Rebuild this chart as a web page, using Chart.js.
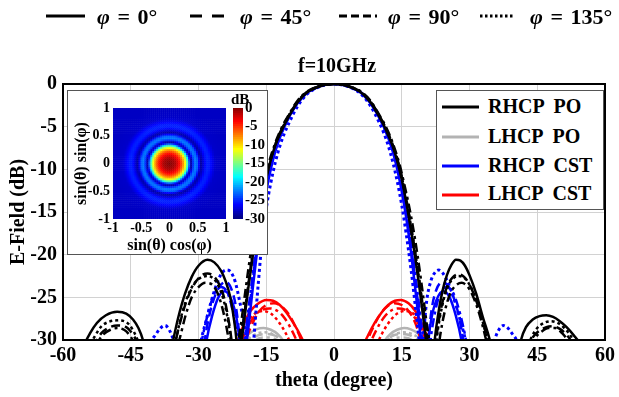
<!DOCTYPE html>
<html><head><meta charset="utf-8">
<script src="https://cdn.jsdelivr.net/npm/chart.js@4.4.0/dist/chart.umd.min.js"></script>
<style>
html,body{margin:0;padding:0;background:#fff;}
body{width:619px;height:397px;position:relative;overflow:hidden;font-family:"Liberation Serif","Times New Roman",serif;font-weight:bold;color:#000;}
.abs{position:absolute;white-space:pre;}
canvas{position:absolute;}
.lt{position:absolute;font-size:22px;line-height:22px;white-space:pre;word-spacing:2px;}
.lg{position:absolute;font-size:20px;line-height:20px;white-space:pre;}
</style></head><body>
<canvas id="main" width="619" height="397" style="left:0;top:0"></canvas>
<div class="abs" style="left:237px;width:200px;text-align:center;top:55px;font-size:20px;line-height:20px;">f=10GHz</div>

<svg class="abs" style="left:0;top:0" width="619" height="34">
  <line x1="46" y1="16" x2="85" y2="16" stroke="#000" stroke-width="3"/>
  <line x1="190" y1="16" x2="224" y2="16" stroke="#000" stroke-width="3" stroke-dasharray="12 10"/>
  <line x1="339" y1="16" x2="381" y2="16" stroke="#000" stroke-width="3" stroke-dasharray="8 4 8 4 8 4 2 4"/>
  <line x1="480" y1="16" x2="513" y2="16" stroke="#000" stroke-width="3" stroke-dasharray="2.5 2.5"/>
</svg>
<div class="lt" style="left:97px;top:6px"><i>φ</i> = 0°</div>
<div class="lt" style="left:240px;top:6px"><i>φ</i> = 45°</div>
<div class="lt" style="left:388px;top:6px"><i>φ</i> = 90°</div>
<div class="lt" style="left:530px;top:6px"><i>φ</i> = 135°</div>

<div class="abs" style="left:436px;top:90px;width:168px;height:120px;box-sizing:border-box;border:1px solid #555;background:#fff;"></div>
<svg class="abs" style="left:436px;top:90px" width="168" height="120">
  <line x1="6" y1="17" x2="43" y2="17" stroke="#000" stroke-width="3"/>
  <line x1="6" y1="47" x2="43" y2="47" stroke="#b3b3b3" stroke-width="3"/>
  <line x1="6" y1="76" x2="43" y2="76" stroke="#0000ff" stroke-width="3"/>
  <line x1="6" y1="105" x2="43" y2="105" stroke="#ff0000" stroke-width="3"/>
</svg>
<div class="lg" style="left:488px;top:96px">RHCP  PO</div>
<div class="lg" style="left:488px;top:126px">LHCP  PO</div>
<div class="lg" style="left:488px;top:155px">RHCP  CST</div>
<div class="lg" style="left:488px;top:183px">LHCP  CST</div>

<div class="abs" style="left:67px;top:90px;width:201px;height:165px;box-sizing:border-box;border:1px solid #555;background:#fff;"></div>
<canvas id="heat" width="170" height="165" style="left:67px;top:90px"></canvas>
<canvas id="cbar" width="40" height="150" style="left:228px;top:90px"></canvas>
<div class="abs" style="left:231px;top:92px;font-size:15px;line-height:15px;">dB</div>

<script>
// ---------------- data ----------------
const xTicks = [-60, -45, -30, -15, 0, 15, 30, 45, 60];
const yTicks = [0, -5, -10, -15, -20, -25, -30];
const phiLabels = ['0', '45', '90', '135'];
const seriesNames = ['RHCP  PO', 'LHCP  PO', 'RHCP  CST', 'LHCP  CST'];

// RHCP PO  [theta(deg), dB]
const rhcpPO_0 = [[-60,-38],[-57,-34],[-55.2,-30.5],[-54,-29.2],[-52.5,-28.0],[-50.5,-27.1],[-48,-26.7],[-46,-26.9],[-44.5,-27.6],[-43.3,-28.6],[-42.3,-30],[-41,-33],[-38.8,-38],[-37,-33.5],[-35.6,-30],[-34.5,-27.4],[-33,-24.6],[-31.5,-22.6],[-30,-21.3],[-28,-20.6],[-26.5,-20.9],[-25,-21.9],[-24,-23.1],[-23,-24.9],[-22.2,-27.4],[-21.6,-30],[-21,-35],
  [-20.5,-30.6],[-20,-28.2],[-19,-24.0],[-18,-20.2],[-17,-16.8],[-16,-13.8],[-15,-11.1],[-14,-8.9],[-13,-7.2],[-12,-5.9],[-11,-4.8],[-10,-3.8],[-9,-2.9],[-8,-2.1],[-6,-1.0],[-4,-0.45],[-2,-0.1],[0,0],
  [2,-0.1],[4,-0.45],[6,-1.0],[8,-2.1],[9,-2.9],[10,-3.8],[11,-4.8],[12,-6.0],[13,-7.3],[14,-9.0],[15,-11.2],[16,-13.9],[17,-17.0],[18,-20.4],[19,-24.2],[20,-28.4],[20.5,-30.8],[21.2,-36],
  [22.3,-30],[23,-27.2],[24,-24.3],[25,-22.4],[26,-21.2],[27,-20.6],[28,-20.7],[29,-21.3],[30,-22.4],[31.5,-24.6],[33,-27.4],[34.5,-30],[35.5,-32.5],[38.5,-38],[40.3,-33],[41.4,-30],[42.5,-28.5],[44,-27.6],[45.5,-27.2],[47,-27.1],[48.5,-27.3],[50,-27.8],[51.5,-28.5],[53,-29.4],[54.5,-30.5],[56,-33],[60,-38]];
const rhcpPO_45 = [[-60,-40],[-56,-35],[-53.5,-31],[-52.5,-30],[-51.5,-29.2],[-50,-28.6],[-48,-28.3],[-46,-28.5],[-45,-29],[-44,-29.8],[-43,-31],[-41,-36],[-38.5,-40],[-36.5,-34],[-35,-30],[-34,-27.8],[-32.5,-25.2],[-31,-23.5],[-29.5,-22.5],[-28,-22.2],[-26.5,-22.6],[-25.3,-23.6],[-24.3,-25.1],[-23.5,-27.2],[-22.7,-30],[-22,-34],[-21.4,-36],
  [-20.8,-30.5],[-20,-27.6],[-19,-23.6],[-18,-19.8],[-17,-16.4],[-16,-13.5],[-15,-10.9],[-14,-8.8],[-13,-7.1],[-12,-5.8],[-11,-4.7],[-10,-3.7],[-8,-2.0],[-6,-0.95],[-4,-0.4],[-2,-0.1],[0,0],
  [2,-0.1],[4,-0.4],[6,-0.95],[8,-2.0],[10,-3.7],[11,-4.7],[12,-5.8],[13,-7.1],[14,-8.8],[15,-10.9],[16,-13.5],[17,-16.5],[18,-19.8],[19,-23.5],[20,-27.4],[20.8,-30.6],[21.5,-36],
  [22.2,-32],[23,-28.4],[24,-25.6],[25,-23.8],[26.2,-22.7],[27.5,-22.3],[28.8,-22.6],[30,-23.5],[31.5,-25.4],[33,-28],[34.3,-30.5],[35.5,-34],[38.5,-40],[41,-36],[43,-31],[44,-29.7],[45.5,-28.9],[47,-28.5],[48.5,-28.4],[50,-28.7],[51.5,-29.4],[52.7,-30.4],[55,-35],[60,-40]];
const rhcpPO_90 = [[-60,-40],[-56,-36],[-53,-31],[-52,-30],[-51,-29.3],[-49.5,-28.8],[-48,-28.6],[-46.5,-28.8],[-45.3,-29.4],[-44.3,-30.3],[-43,-32],[-40,-38],[-37,-36],[-35,-31.5],[-34,-29.5],[-32.8,-27],[-31.5,-25],[-30,-23.8],[-28.5,-23.3],[-27,-23.5],[-25.7,-24.6],[-24.7,-26.3],[-23.8,-28.5],[-23.2,-30.5],[-22.5,-34],[-21.8,-36],
  [-21.2,-30.6],[-20.5,-27.8],[-19.5,-23.8],[-18.5,-20],[-17.5,-16.7],[-16.5,-14],[-15.5,-11.6],[-14.5,-9.4],[-13,-6.9],[-12,-5.6],[-11,-4.5],[-10,-3.6],[-8,-1.9],[-6,-0.9],[-4,-0.4],[-2,-0.1],[0,0],
  [2,-0.1],[4,-0.4],[6,-0.9],[8,-1.9],[10,-3.6],[11,-4.5],[12,-5.6],[13,-6.9],[14.5,-9.4],[15.5,-11.6],[16.5,-14],[17.5,-16.8],[18.5,-20.1],[19.5,-23.9],[20.5,-28],[21.2,-30.8],[21.8,-36],
  [22.6,-33],[23.5,-29.5],[24.5,-26.7],[25.7,-24.6],[27,-23.6],[28.3,-23.3],[29.5,-23.7],[30.8,-24.9],[32.2,-27],[33.5,-29.6],[34.5,-32],[38,-40],[41.5,-36],[43.5,-31],[44.5,-29.8],[46,-29],[47.5,-28.6],[49,-28.6],[50.5,-29.2],[51.8,-30.2],[54,-34],[60,-40]];
const rhcpPO_135 = [[-60,-39],[-56,-34],[-54,-30.6],[-53,-29.6],[-51.5,-28.4],[-50,-27.9],[-48,-27.7],[-46,-27.9],[-44.8,-28.6],[-43.8,-29.6],[-42.8,-31],[-41,-35],[-38.5,-39],[-36.5,-34],[-35,-30],[-34,-27.6],[-32.5,-25],[-31,-23.4],[-29.5,-22.7],[-28,-22.5],[-26.5,-22.9],[-25.3,-24],[-24.3,-25.6],[-23.5,-27.6],[-22.8,-30],[-22.2,-33],[-21.4,-36],
  [-20.8,-30.5],[-20,-27.6],[-19,-23.6],[-18,-19.8],[-17,-16.4],[-16,-13.5],[-15,-10.9],[-14,-8.8],[-13,-7.1],[-12,-5.8],[-11,-4.7],[-10,-3.7],[-8,-2.0],[-6,-0.95],[-4,-0.4],[-2,-0.1],[0,0],
  [2,-0.1],[4,-0.4],[6,-0.95],[8,-2.0],[10,-3.7],[11,-4.7],[12,-5.8],[13,-7.1],[14,-8.8],[15,-10.9],[16,-13.5],[17,-16.5],[18,-19.8],[19,-23.5],[20,-27.4],[20.8,-30.6],[21.5,-36],
  [22.3,-32],[23,-28.8],[24,-25.9],[25,-24],[26.2,-22.9],[27.6,-22.5],[29,-22.8],[30.3,-23.8],[31.7,-25.6],[33,-28],[34.2,-30.5],[35.5,-34],[38.5,-39],[41,-35],[42.8,-31],[43.8,-29.6],[45,-28.6],[46.5,-28.0],[48,-27.8],[49.5,-28],[51,-28.6],[52.5,-29.6],[53.5,-30.6],[56,-34],[60,-39]];

// LHCP PO
const lhcpPO_0 = [[-60,-45],[-24,-42],[-21,-33],[-19.8,-30],[-18.6,-29.2],[-17.2,-28.75],[-15.6,-28.6],[-14,-28.8],[-12.5,-29.3],[-11.2,-30.1],[-10,-31.5],[-7,-38],[0,-50],[7,-38],[10,-31.5],[11.2,-30.1],[12.5,-29.3],[14,-28.8],[15.5,-28.6],[17,-28.75],[18.5,-29.2],[19.7,-30],[21,-33],[24,-42],[60,-45]];
const lhcpPO_45 = [[-60,-45],[-23,-42],[-20,-32],[-18.6,-30.2],[-17,-29.5],[-15,-29.3],[-13,-29.5],[-11.8,-30.2],[-10,-32.5],[-7,-38],[0,-50],[7,-38],[10,-32.5],[11.8,-30.2],[13,-29.5],[15,-29.3],[17,-29.5],[18.6,-30.2],[20,-32],[23,-42],[60,-45]];
const lhcpPO_90 = [[-60,-45],[-22,-42],[-19.5,-32],[-17.5,-30.1],[-15,-29.7],[-12.5,-30.1],[-10.5,-32],[-7,-38],[0,-50],[7,-38],[10.5,-32],[12.5,-30.1],[15,-29.7],[17.5,-30.1],[19.5,-32],[22,-42],[60,-45]];
const lhcpPO_135 = [[-60,-45],[-23,-42],[-20.5,-32],[-19,-30],[-17.3,-29.3],[-15.5,-29.1],[-13.7,-29.3],[-12,-30],[-10.5,-32],[-7,-38],[0,-50],[7,-38],[10.5,-32],[12,-30],[13.7,-29.3],[15.5,-29.1],[17.3,-29.3],[19,-30],[20.5,-32],[23,-42],[60,-45]];

// RHCP CST
const rhcpCST_0 = [[-60,-45],[-34,-42],[-29.5,-35],[-28.2,-30],[-27,-27.2],[-25.6,-25],[-24.2,-24.3],[-22.7,-25.3],[-21.6,-27.4],[-20.9,-30],[-20.2,-35],
  [-19.6,-31.5],[-19,-28.8],[-18,-24],[-17,-19.5],[-16,-15.7],[-15,-12.6],[-14,-10],[-13,-7.9],[-12,-6.3],[-11,-5.0],[-10,-3.9],[-8,-2.2],[-6,-1.05],[-4,-0.45],[-2,-0.1],[0,0],
  [2,-0.1],[4,-0.45],[6,-1.05],[8,-2.2],[10,-3.9],[11,-5.0],[12,-6.3],[13,-7.9],[14,-10],[15,-12.6],[16,-15.7],[17,-19.5],[18,-24],[19,-28.8],[19.6,-31.5],
  [20.2,-35],[20.9,-30],[21.6,-27.4],[22.7,-25.3],[24.2,-24.3],[25.6,-25],[27,-27.2],[28.2,-30],[29.5,-35],[34,-42],[60,-45]];
const rhcpCST_45 = [[-60,-45],[-34,-42],[-29.8,-35],[-28.6,-30],[-27.8,-27.6],[-26.8,-25.5],[-25.4,-23.8],[-24,-23.2],[-22.6,-24.2],[-21.6,-26.5],[-20.9,-30],[-20.3,-35],
  [-19.7,-31],[-19,-27.6],[-18,-23],[-17,-18.8],[-16,-15.2],[-15,-12.2],[-14,-9.7],[-13,-7.7],[-12,-6.2],[-11,-5.0],[-10,-3.9],[-8,-2.2],[-6,-1.05],[-4,-0.45],[-2,-0.1],[0,0],
  [2,-0.1],[4,-0.45],[6,-1.05],[8,-2.2],[10,-3.9],[11,-5.0],[12,-6.2],[13,-7.7],[14,-9.7],[15,-12.2],[16,-15.2],[17,-18.8],[18,-23],[19,-27.6],[19.7,-31],
  [20.3,-35],[20.9,-30],[21.6,-26.5],[22.6,-24.2],[24,-23.2],[25.4,-23.8],[26.8,-25.5],[27.8,-27.6],[28.6,-30],[29.8,-35],[34,-42],[60,-45]];
const rhcpCST_90 = [[-60,-45],[-35,-42],[-30.3,-35],[-29.3,-30.3],[-28.5,-28.2],[-27.6,-26.3],[-26.5,-24.6],[-25,-23.8],[-23.4,-24.7],[-22.2,-27.2],[-21.3,-30.4],[-20.6,-35],
  [-20,-31.2],[-19.2,-27.5],[-18.2,-23.2],[-17.2,-19],[-16.2,-15.4],[-15.2,-12.4],[-14,-9.5],[-13,-7.6],[-12,-6.1],[-11,-4.9],[-10,-3.8],[-8,-2.15],[-6,-1.0],[-4,-0.45],[-2,-0.1],[0,0],
  [2,-0.1],[4,-0.45],[6,-1.0],[8,-2.15],[10,-3.8],[11,-4.9],[12,-6.1],[13,-7.6],[14,-9.5],[15.2,-12.4],[16.2,-15.4],[17.2,-19],[18.2,-23.2],[19.2,-27.5],[20,-31.2],
  [20.6,-35],[21.3,-30.4],[22.2,-27.2],[23.4,-24.7],[25,-23.8],[26.5,-24.6],[27.6,-26.3],[28.5,-28.2],[29.3,-30.3],[30.3,-35],[35,-42],[60,-45]];
const rhcpCST_135 = [[-60,-45],[-45,-40],[-41.5,-33],[-40.5,-30.3],[-39.5,-29.4],[-38.4,-28.6],[-37.4,-28.3],[-36.5,-28.8],[-35.6,-30],[-34.6,-33],[-33,-38],[-30.5,-33.5],[-29.4,-30],[-28.3,-27.7],[-27.2,-25.5],[-26,-23.5],[-25,-22.3],[-23.9,-21.8],[-22.9,-22.0],[-21.8,-23.3],[-20.8,-25.7],[-20,-27.8],[-19.4,-30],[-18.7,-35],
  [-18,-31.5],[-17.4,-27.5],[-16.8,-23.6],[-16,-18.8],[-15,-14.6],[-14,-11.6],[-13,-9.2],[-12,-7.3],[-11,-5.8],[-10,-4.6],[-8,-2.55],[-6,-1.2],[-4,-0.5],[-2,-0.12],[0,0],
  [2,-0.12],[4,-0.5],[6,-1.2],[8,-2.5],[10,-4.5],[11,-5.7],[12,-7.2],[13,-9.1],[14,-11.4],[15,-14.2],[16,-17.6],[17,-21.5],[18,-26],[18.8,-30],[19.3,-34],
  [19.9,-29],[20.5,-25.5],[21.5,-23],[22.5,-22],[23.2,-21.8],[24,-22.1],[25,-23],[26,-24.3],[27,-25.9],[28,-27.8],[29,-29.8],[30,-33],[32.5,-38],[34.5,-33],[35.6,-30],[36.5,-28.8],[37.5,-28.3],[38.5,-28.6],[39.5,-29.3],[40.5,-30.2],[41.5,-33],[45,-40],[60,-45]];

// LHCP CST
const lhcpCST_0 = [[-60,-45],[-24,-40],[-22,-32],[-21.2,-30],[-20,-28.2],[-18.5,-26.6],[-17,-25.8],[-15,-25.3],[-13.5,-25.4],[-12,-25.9],[-10.5,-26.8],[-9,-28],[-7.5,-29.4],[-6.8,-30.2],[-5.5,-33],[-3,-40],[0,-45],[3,-40],[5.5,-33],[6.9,-30.2],[7.6,-29.4],[9,-28],[10.5,-26.8],[12,-25.9],[13.5,-25.4],[14.8,-25.3],[16.5,-25.7],[18,-26.6],[19,-27.6],[20,-29.1],[20.7,-30.3],[22,-33],[24,-40],[60,-45]];
const lhcpCST_45 = [[-60,-45],[-23,-40],[-20.5,-32],[-19.5,-30],[-18,-28],[-16.5,-26.6],[-15,-25.9],[-13.3,-25.7],[-11.5,-26.1],[-10,-27],[-8.5,-28.5],[-7.3,-30],[-6,-33],[-3,-40],[0,-45],[3,-40],[6.2,-33],[7.5,-30],[8.7,-28.5],[10.2,-27],[11.7,-26.1],[13.4,-25.7],[15,-25.9],[16.5,-26.6],[18,-28],[19,-29.6],[19.6,-30.5],[21,-34],[23,-40],[60,-45]];
const lhcpCST_90 = [[-60,-45],[-23,-40],[-21.5,-32.5],[-20.5,-30.3],[-19,-28.4],[-17.5,-27.1],[-16,-26.5],[-14.3,-26.3],[-12.5,-26.6],[-11,-27.4],[-9.5,-28.7],[-8.2,-30.2],[-6.5,-33],[-3,-40],[0,-45],[3,-40],[6.5,-33],[8.2,-30.2],[9.5,-28.7],[11,-27.4],[12.5,-26.6],[14.3,-26.3],[16,-26.5],[17.5,-27.1],[19,-28.4],[20.5,-30.3],[21.5,-32.5],[23,-40],[60,-45]];
const lhcpCST_135 = [[-60,-45],[-24,-40],[-22,-32.5],[-21,-30.2],[-19.5,-28.2],[-18,-27.1],[-15.8,-26.6],[-14,-26.9],[-12.5,-27.7],[-11,-28.9],[-9.8,-30.2],[-8,-33],[-4,-40],[0,-45],[4,-40],[8,-33],[9.8,-30.2],[11,-28.9],[12.5,-27.7],[14,-26.9],[15.8,-26.6],[18,-27.1],[19.5,-28.2],[21,-30.2],[22,-32.5],[24,-40],[60,-45]];

// inset map: radial profile vs sin(theta)
const mapR  = [0, 0.1, 0.16, 0.2, 0.24, 0.27, 0.3, 0.33, 0.36, 0.39, 0.42, 0.46, 0.5, 0.53, 0.56, 0.6, 0.64, 0.68, 0.72, 0.77, 0.82, 1.0, 1.5];
const mapDB = [0, -1.2, -3.2, -5, -7.5, -10, -13.5, -18.5, -25, -29, -25, -22.5, -23.5, -26.5, -29, -27.5, -25.8, -25.2, -25.6, -26.8, -27.8, -28, -28];
const mapTicks = [-1, -0.5, 0, 0.5, 1];
const cbarTicks = [0, -5, -10, -15, -20, -25, -30];

// ---------------- drawing ----------------
const F = '"Liberation Serif","Times New Roman",serif';
const BLACK = '#000000', GRAY = '#b3b3b3', BLUE = '#0000ff', RED = '#ff0000';
const DASH = {'0': [], '45': [9, 5], '90': [9, 4, 3, 4], '135': [3, 3]};

function ds(arr, color, phi, w) {
  return {
    data: arr.map(p => ({x: p[0], y: p[1]})),
    borderColor: color, backgroundColor: color,
    borderWidth: w || 2.5, borderDash: DASH[phi],
    pointRadius: 0, fill: false, cubicInterpolationMode: 'monotone'
  };
}
const datasets = [
  ds(rhcpPO_0, BLACK, '0'), ds(rhcpPO_45, BLACK, '45'), ds(rhcpPO_90, BLACK, '90'), ds(rhcpPO_135, BLACK, '135'),
  ds(rhcpCST_0, BLUE, '0'), ds(rhcpCST_45, BLUE, '45'), ds(rhcpCST_90, BLUE, '90'), ds(rhcpCST_135, BLUE, '135', 3),
  ds(lhcpCST_0, RED, '0'), ds(lhcpCST_45, RED, '45'), ds(lhcpCST_90, RED, '90'), ds(lhcpCST_135, RED, '135'),
  ds(lhcpPO_0, GRAY, '0'), ds(lhcpPO_45, GRAY, '45'), ds(lhcpPO_90, GRAY, '90'), ds(lhcpPO_135, GRAY, '135')
];

const framePlugin = {
  id: 'frame',
  afterDatasetsDraw(chart) {
    const {ctx, chartArea: a} = chart;
    ctx.save(); ctx.strokeStyle = '#000'; ctx.lineWidth = 2;
    ctx.strokeRect(a.left, a.top, a.right - a.left, a.bottom - a.top);
    ctx.restore();
  }
};

new Chart(document.getElementById('main'), {
  type: 'line',
  data: {datasets},
  options: {
    responsive: false, animation: false,
    layout: {padding: {left: 0, top: 84, right: 12, bottom: 0}},
    plugins: {legend: {display: false}, tooltip: {enabled: false}, title: {display: false}},
    scales: {
      x: {
        type: 'linear', min: -60, max: 60,
        afterBuildTicks: s => { s.ticks = xTicks.map(v => ({value: v})); },
        afterFit: s => { s.height = 57; },
        ticks: {color: '#000', font: {family: F, size: 20, weight: 'bold'}, padding: 4, maxRotation: 0, autoSkip: false, callback: v => String(v)},
        grid: {color: '#d2d2d2', lineWidth: 1, drawTicks: false},
        border: {display: true, color: '#000', width: 2},
        title: {display: true, text: 'theta (degree)', color: '#000', font: {family: F, size: 20, weight: 'bold'}, padding: {top: 0, bottom: 4}}
      },
      y: {
        type: 'linear', min: -30, max: 0,
        afterBuildTicks: s => { s.ticks = yTicks.map(v => ({value: v})); },
        afterFit: s => { s.width = 63; },
        ticks: {color: '#000', font: {family: F, size: 20, weight: 'bold'}, padding: 6, autoSkip: false, callback: v => String(v)},
        grid: {color: '#d2d2d2', lineWidth: 1, drawTicks: false},
        border: {display: true, color: '#000', width: 2},
        title: {display: true, text: 'E-Field (dB)', color: '#000', font: {family: F, size: 20, weight: 'bold'}, padding: {top: 7, bottom: 0}}
      }
    }
  },
  plugins: [framePlugin]
});

// jet colour map
function jet(t) {
  t = Math.max(0, Math.min(1, t));
  const c = v => Math.round(255 * Math.max(0, Math.min(1, v)));
  return 'rgb(' + c(1.5 - Math.abs(4 * t - 3)) + ',' + c(1.5 - Math.abs(4 * t - 2)) + ',' + c(1.5 - Math.abs(4 * t - 1)) + ')';
}
function profile(r) {
  for (let k = 1; k < mapR.length; k++) {
    if (r <= mapR[k]) {
      const f = (r - mapR[k - 1]) / (mapR[k] - mapR[k - 1]);
      return mapDB[k - 1] + f * (mapDB[k] - mapDB[k - 1]);
    }
  }
  return mapDB[mapDB.length - 1];
}
const N = 57, step = 2 / N;
const cells = [], cellColors = [];
for (let i = 0; i < N; i++) {
  for (let j = 0; j < N; j++) {
    const u = -1 + (i + 0.5) * step, v = -1 + (j + 0.5) * step;
    const val = profile(Math.sqrt(u * u + v * v));
    cells.push({x: u, y: v});
    cellColors.push(jet((val + 30) / 30));
  }
}
const smallFont = {family: F, size: 14, weight: 'bold'};
new Chart(document.getElementById('heat'), {
  type: 'scatter',
  data: {datasets: [{data: cells, backgroundColor: cellColors, borderWidth: 0, pointStyle: 'rect', pointRadius: 1.75, pointHoverRadius: 1.75}]},
  options: {
    responsive: false, animation: false,
    layout: {padding: {left: 0, top: 18, right: 11, bottom: 0}},
    plugins: {legend: {display: false}, tooltip: {enabled: false}},
    scales: {
      x: {
        min: -1, max: 1,
        afterBuildTicks: s => { s.ticks = mapTicks.map(v => ({value: v})); },
        afterFit: s => { s.height = 36; },
        ticks: {color: '#000', font: smallFont, padding: 1, maxRotation: 0, autoSkip: false, callback: v => String(v)},
        grid: {display: false, drawTicks: false}, border: {display: false},
        title: {display: true, text: 'sin(θ) cos(φ)', color: '#000', font: {family: F, size: 16, weight: 'bold'}, padding: {top: 0, bottom: 0}}
      },
      y: {
        min: -1, max: 1,
        afterBuildTicks: s => { s.ticks = mapTicks.map(v => ({value: v})); },
        afterFit: s => { s.width = 46; },
        ticks: {color: '#000', font: smallFont, padding: 3, autoSkip: false, callback: v => String(v)},
        grid: {display: false, drawTicks: false}, border: {display: false},
        title: {display: true, text: 'sin(θ) sin(φ)', color: '#000', font: {family: F, size: 16, weight: 'bold'}, padding: {top: 5, bottom: 0}}
      }
    }
  }
});

// colour bar: stacked floating bars
const cbarSets = [];
for (let k = 0; k < 60; k++) {
  const lo = -30 + k * 0.5, hi = lo + 0.5;
  cbarSets.push({data: [[lo, Math.min(0, hi + 0.08)]], backgroundColor: jet((lo + 0.25 + 30) / 30), borderWidth: 0, barPercentage: 1, categoryPercentage: 1, grouped: false});
}
new Chart(document.getElementById('cbar'), {
  type: 'bar',
  data: {labels: ['dB'], datasets: cbarSets},
  options: {
    responsive: false, animation: false,
    layout: {padding: {left: 5, top: 18, right: 0, bottom: 21}},
    plugins: {legend: {display: false}, tooltip: {enabled: false}},
    scales: {
      x: {display: false},
      y: {
        position: 'right', min: -30, max: 0,
        afterBuildTicks: s => { s.ticks = cbarTicks.map(v => ({value: v})); },
        afterFit: s => { s.width = 25; },
        ticks: {color: '#000', font: {family: F, size: 15, weight: 'bold'}, padding: 2, autoSkip: false, callback: v => String(v)},
        grid: {display: false, drawTicks: false}, border: {display: false}
      }
    }
  }
});
</script>
</body></html>
